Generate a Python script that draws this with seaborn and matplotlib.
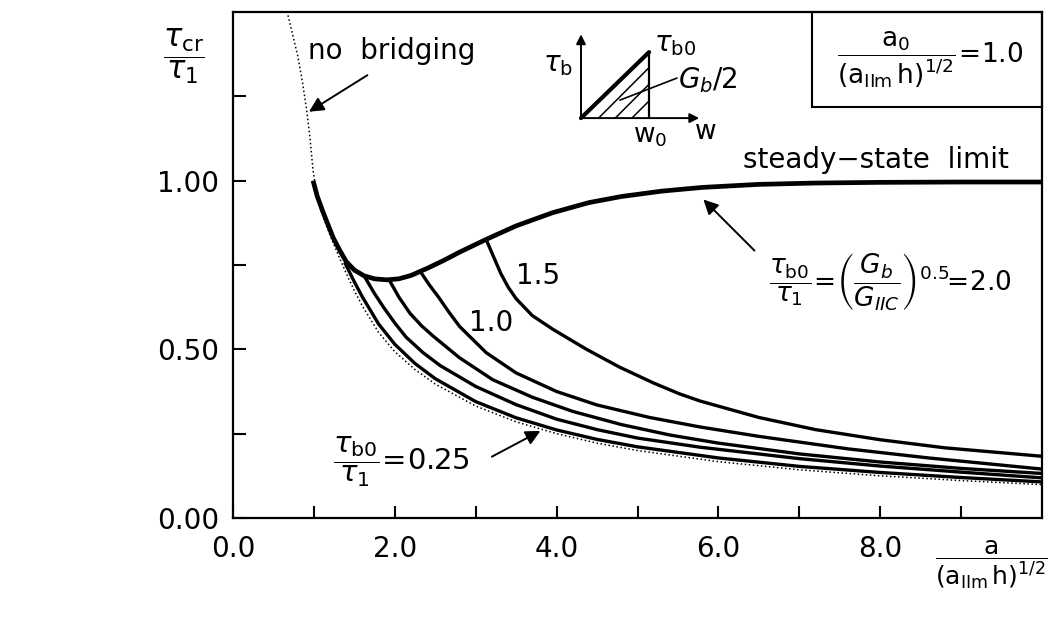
import numpy as np
import pandas as pd
import matplotlib
matplotlib.use("Agg")
import matplotlib.pyplot as plt
import seaborn as sns
from matplotlib.patches import Rectangle, Polygon

# ---- data -------------------------------------------------------------
# no-bridging reference curve (dotted)
x_nobridge = [0.68, 0.74, 0.80, 0.86, 0.91, 0.95, 0.99, 1.03, 1.10, 1.20, 1.30, 1.40,
              1.50, 1.60, 1.80, 2.00, 2.25, 2.50, 3.00, 3.50, 4.00, 4.50, 5.00, 6.00,
              7.00, 8.00, 9.00, 10.0]
y_nobridge = [1.49, 1.43, 1.37, 1.29, 1.21, 1.13, 1.03, 0.965, 0.902, 0.838, 0.78, 0.725,
              0.674, 0.628, 0.55, 0.493, 0.44, 0.397, 0.332, 0.285, 0.25, 0.222, 0.20,
              0.167, 0.143, 0.125, 0.111, 0.099]

# tau_b0/tau_1 = 2.0 (approaches the steady-state limit)
x_r20 = [0.99, 1.04, 1.10, 1.16, 1.24, 1.32, 1.40, 1.50, 1.62, 1.75, 1.90, 2.05, 2.20,
         2.40, 2.60, 2.80, 3.13, 3.50, 3.95, 4.40, 4.80, 5.30, 5.80, 6.50, 7.20, 8.00,
         9.00, 10.0]
y_r20 = [1.00, 0.955, 0.915, 0.878, 0.83, 0.793, 0.76, 0.735, 0.718, 0.709, 0.706, 0.709,
         0.719, 0.74, 0.763, 0.788, 0.826, 0.866, 0.905, 0.935, 0.953, 0.969, 0.980,
         0.989, 0.993, 0.995, 0.996, 0.996]

x_r15 = [3.13, 3.22, 3.31, 3.40, 3.50, 3.70, 3.95, 4.37, 4.78, 5.20, 5.52, 5.77, 6.50,
         7.20, 8.00, 8.80, 10.0]
y_r15 = [0.825, 0.775, 0.725, 0.685, 0.65, 0.60, 0.56, 0.50, 0.447, 0.40, 0.368, 0.347,
         0.298, 0.262, 0.232, 0.208, 0.183]

x_r10 = [2.32, 2.43, 2.54, 2.67, 2.80, 3.13, 3.50, 4.00, 4.50, 5.15, 5.77, 6.50, 7.60,
         8.60, 10.0]
y_r10 = [0.729, 0.69, 0.655, 0.61, 0.568, 0.49, 0.43, 0.375, 0.335, 0.298, 0.27, 0.242,
         0.205, 0.178, 0.145]

x_r075 = [1.93, 2.05, 2.19, 2.33, 2.47, 2.80, 3.21, 3.70, 4.20, 4.80, 5.40, 6.00, 7.00,
          8.00, 9.00, 10.0]
y_r075 = [0.706, 0.655, 0.606, 0.57, 0.54, 0.475, 0.41, 0.358, 0.316, 0.277, 0.246,
          0.222, 0.19, 0.166, 0.147, 0.132]

x_r05 = [1.63, 1.75, 1.86, 2.00, 2.14, 2.35, 2.56, 3.00, 3.50, 4.00, 4.50, 5.00, 5.77,
         7.00, 8.00, 9.00, 10.0]
y_r05 = [0.714, 0.665, 0.625, 0.578, 0.536, 0.49, 0.452, 0.39, 0.336, 0.293, 0.262,
         0.237, 0.21, 0.176, 0.154, 0.136, 0.119]

x_r025 = [1.38, 1.50, 1.60, 1.80, 2.00, 2.25, 2.50, 3.00, 3.50, 4.00, 4.50, 5.00, 6.00,
          7.00, 8.00, 9.00, 10.0]
y_r025 = [0.758, 0.70, 0.655, 0.575, 0.515, 0.458, 0.413, 0.345, 0.297, 0.261, 0.233,
          0.211, 0.178, 0.153, 0.135, 0.12, 0.107]

x_ticks = [0, 1, 2, 3, 4, 5, 6, 7, 8, 9]
x_ticklabels = ["0.0", "", "2.0", "", "4.0", "", "6.0", "", "8.0", ""]
y_ticks = [0.0, 0.25, 0.5, 0.75, 1.0, 1.25]
y_ticklabels = ["0.00", "", "0.50", "", "1.00", ""]

# ---- style --------------------------------------------------------------
sns.set_theme(style="white")
plt.rcParams["font.family"] = ["DejaVu Sans"]
plt.rcParams["mathtext.fontset"] = "dejavusans"
plt.rcParams["axes.linewidth"] = 1.6
plt.rcParams["text.color"] = "black"
plt.rcParams["xtick.color"] = "black"
plt.rcParams["ytick.color"] = "black"
plt.rcParams["hatch.linewidth"] = 1.1

fig = plt.figure(figsize=(10.56, 6.26), dpi=100)
ax = fig.add_axes([233 / 1056, 108 / 626, 809 / 1056, 506 / 626])

curves = [
    ("no bridging", x_nobridge, y_nobridge, 1.1, ":"),
    ("0.25", x_r025, y_r025, 2.4, "-"),
    ("0.5", x_r05, y_r05, 2.4, "-"),
    ("0.75", x_r075, y_r075, 2.4, "-"),
    ("1.0", x_r10, y_r10, 2.4, "-"),
    ("1.5", x_r15, y_r15, 2.4, "-"),
    ("2.0", x_r20, y_r20, 3.4, "-"),
]
for name, xs, ys, lw, ls in curves:
    df = pd.DataFrame({"a": xs, "tau": ys})
    sns.lineplot(data=df, x="a", y="tau", ax=ax, color="black", lw=lw,
                 linestyle=ls, sort=False, estimator=None, solid_capstyle="butt")

ax.set_xlim(0, 10)
ax.set_ylim(0, 1.5)
ax.set_xticks(x_ticks)
ax.set_xticklabels(x_ticklabels)
ax.set_yticks(y_ticks)
ax.set_yticklabels(y_ticklabels)
ax.set_xlabel("")
ax.set_ylabel("")
for s in ax.spines.values():
    s.set_color("black")
    s.set_linewidth(1.6)
ax.tick_params(axis="both", direction="in", length=9, width=1.5, colors="black",
               labelsize=20, bottom=True, left=True, top=False, right=False)
ax.tick_params(axis="x", pad=12)
ax.tick_params(axis="y", pad=10)

# axis titles as fractions
ax.text(-0.061, 0.912, r"$\dfrac{\tau_{\mathrm{cr}}}{\tau_1}$", transform=ax.transAxes,
        ha="center", va="center", fontsize=22)
ax.text(0.937, -0.093,
        r"$\dfrac{\mathrm{a}}{(\mathrm{a}_{\mathrm{IIm}}\,\mathrm{h})^{1/2}}$",
        transform=ax.transAxes, ha="center", va="center", fontsize=18)

# parameter box
ax.add_patch(Rectangle((0.716, 0.812), 0.284, 0.188, transform=ax.transAxes,
                       fill=False, lw=1.5, ec="black", clip_on=False))
ax.text(0.862, 0.906,
        r"$\dfrac{\mathrm{a}_0}{(\mathrm{a}_{\mathrm{IIm}}\,\mathrm{h})^{1/2}}\!=\!1.0$",
        transform=ax.transAxes, ha="center", va="center", fontsize=19)

# annotations
ax.text(0.93, 1.385, "no  bridging", fontsize=20, ha="left", va="center")
ax.annotate("", xy=(0.91, 1.20), xytext=(1.69, 1.317),
            arrowprops=dict(arrowstyle="-|>", color="black", lw=1.4, mutation_scale=22))

ax.text(6.3, 1.06, "steady\u2212state  limit", fontsize=20, ha="left", va="center")

ax.text(3.77, 0.716, "1.5", fontsize=20, ha="center", va="center")
ax.text(3.19, 0.577, "1.0", fontsize=20, ha="center", va="center")

ax.text(1.23, 0.166, r"$\dfrac{\tau_{\mathrm{b0}}}{\tau_1}\!=\!0.25$", fontsize=21,
        ha="left", va="center")
ax.annotate("", xy=(3.83, 0.262), xytext=(3.17, 0.178),
            arrowprops=dict(arrowstyle="-|>", color="black", lw=1.4, mutation_scale=22))

ax.text(6.63, 0.70,
        r"$\dfrac{\tau_{\mathrm{b0}}}{\tau_1}\!=\!\left(\dfrac{G_b}{G_{IIC}}\right)^{0.5}\!\!=\!2.0$",
        fontsize=19, ha="left", va="center")
ax.annotate("", xy=(5.79, 0.95), xytext=(6.47, 0.787),
            arrowprops=dict(arrowstyle="-|>", color="black", lw=1.4, mutation_scale=22))

# bridging law schematic
ins = ax.inset_axes([0.4166, 0.747, 0.1854, 0.221])
ins.set_xlim(0, 1)
ins.set_ylim(0, 1)
ins.axis("off")
ins.patch.set_alpha(0)
tri = Polygon([(0.073, 0.196), (0.527, 0.786), (0.527, 0.196)], closed=True,
              fill=False, hatch="//", lw=0, ec="black")
ins.add_patch(tri)
ins.plot([0.073, 0.527], [0.196, 0.786], color="black", lw=3.0, solid_capstyle="round")
ins.plot([0.527, 0.527], [0.196, 0.786], color="black", lw=1.6)
ins.annotate("", xy=(0.073, 0.97), xytext=(0.073, 0.196),
             arrowprops=dict(arrowstyle="-|>", color="black", lw=1.4, mutation_scale=14))
ins.annotate("", xy=(0.88, 0.196), xytext=(0.073, 0.196),
             arrowprops=dict(arrowstyle="-|>", color="black", lw=1.4, mutation_scale=14))
ins.plot([0.333, 0.713], [0.357, 0.554], color="black", lw=1.2)
ins.text(-0.08, 0.68, r"$\tau_{\mathrm{b}}$", fontsize=20, ha="center", va="center")
ins.text(0.56, 0.86, r"$\tau_{\mathrm{b0}}$", fontsize=20, ha="left", va="center")
ins.text(0.72, 0.54, r"$G_b/2$", fontsize=20, ha="left", va="center")
ins.text(0.533, 0.04, r"$\mathrm{w}_0$", fontsize=19, ha="center", va="center")
ins.text(0.90, 0.07, r"$\mathrm{w}$", fontsize=19, ha="center", va="center")

fig.savefig("out.png", dpi=100, facecolor="white")
